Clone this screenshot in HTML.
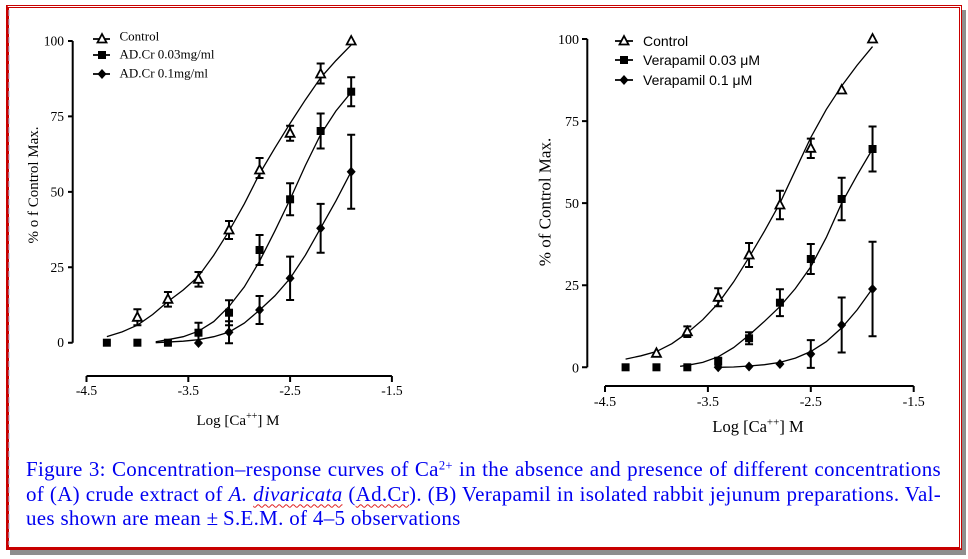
<!DOCTYPE html>
<html><head><meta charset="utf-8">
<style>
html,body{margin:0;padding:0;background:#fff;}
body{width:968px;height:559px;position:relative;overflow:hidden;}
.frame{position:absolute;left:6px;top:5px;width:950px;height:539px;border-left:3px solid #c80000;border-bottom:3px solid #c80000;border-top:3px double #c80000;border-right:3px double #c80000;box-shadow:4px 5px 0 #8e8e8e;background:#fff;}
.cap{position:absolute;left:26px;top:457px;width:915px;font-family:"Liberation Serif",serif;font-size:21px;line-height:24.7px;color:#0000f0;letter-spacing:0.3px;}
.cap div{white-space:nowrap;}
.j{text-align:justify;text-align-last:justify;white-space:normal !important;}
.cap sup{font-size:0.6em;vertical-align:0.5em;line-height:0;}
.sp{text-decoration:underline wavy #e02020;text-decoration-thickness:1px;text-underline-offset:3px;}
svg{position:absolute;left:0;top:0;}
</style></head>
<body>
<div class="frame"></div>
<svg width="968" height="559" viewBox="0 0 968 559" xmlns="http://www.w3.org/2000/svg">
<defs>
<polygon id="tri" points="0,-5 -4.5,3.5 4.5,3.5" fill="#fff" stroke="#000" stroke-width="1.8"/>
<rect id="sq" x="-4" y="-4" width="8" height="8" fill="#000"/>
<polygon id="dia" points="0,-5 4.5,0 0,5 -4.5,0" fill="#000"/>
</defs>
<line x1="9" y1="10" x2="9" y2="545" stroke="#a8c0e0" stroke-width="1" stroke-dasharray="6,3"/>

<!-- LEFT CHART -->
<g stroke="#000" fill="none">
<path d="M72.7,41V342.7M68,41H72.7M68,116.4H72.7M68,191.85H72.7M68,267.3H72.7M68,342.7H72.7" stroke-width="2"/>
<path d="M86.5,376H391.9M86.5,376V382M188.3,376V382M290.1,376V382M391.9,376V382" stroke-width="2"/>
</g>
<g font-family="Liberation Serif, serif" font-size="13.5" fill="#000">
<text x="64" y="45.5" text-anchor="end">100</text>
<text x="64" y="121" text-anchor="end">75</text>
<text x="64" y="196.4" text-anchor="end">50</text>
<text x="64" y="271.8" text-anchor="end">25</text>
<text x="64" y="347.2" text-anchor="end">0</text>
<text x="86.5" y="395" text-anchor="middle">-4.5</text>
<text x="188.3" y="395" text-anchor="middle">-3.5</text>
<text x="290.1" y="395" text-anchor="middle">-2.5</text>
<text x="391.9" y="395" text-anchor="middle">-1.5</text>
</g>
<text x="238" y="425" text-anchor="middle" font-family="Liberation Serif, serif" font-size="15">Log [Ca<tspan font-size="10" dy="-6">++</tspan><tspan dy="6">] M</tspan></text>
<text transform="translate(38,185) rotate(-90)" text-anchor="middle" font-family="Liberation Serif, serif" font-size="15">% o f Control Max.</text>

<g stroke="#000" fill="none" stroke-width="1.3">
<path d="M106.86,336.67 L122.13,331.84 L137.4,325.2 L152.67,314.5 L167.94,301.5 L183.21,290 L198.48,276.33 L213.75,255.21 L229.02,231.07 L244.29,203.92 L259.56,173.75 L274.83,148.1 L290.1,123.36 L305.37,99.83 L320.64,77.8 L335.91,60.61 L351.18,44.92"/>
<path d="M155.7,341.8 L167.94,339.7 L183.21,336.7 L198.48,331.2 L213.75,321.6 L229.02,306.5 L244.29,286.9 L259.56,261.2 L274.83,231.1 L290.1,199.4 L305.37,165.5 L320.64,134.5 L335.91,111 L351.18,92.3"/>
<path d="M155.7,342.7 L183.21,341.2 L198.48,339.7 L213.75,336.7 L229.02,332.1 L244.29,323.1 L259.56,310.1 L274.83,295.9 L290.1,278.4 L305.37,255.2 L320.64,228.1 L335.91,200.9 L351.18,171.6"/>
</g>
<path stroke="#000" fill="none" stroke-width="2" d="
M137.4,309.3V325.3M133.4,309.3H141.4M133.4,325.3H141.4
M167.94,292V306.6M163.94,292H171.94M163.94,306.6H171.94
M198.48,272V286.6M194.48,272H202.48M194.48,286.6H202.48
M229.02,221V239M225.02,221H233.02M225.02,239H233.02
M259.56,158V178M255.56,158H263.56M255.56,178H263.56
M290.1,125.8V140.8M286.1,125.8H294.1M286.1,140.8H294.1
M320.64,63.5V83.5M316.64,63.5H324.64M316.64,83.5H324.64
M198.48,322.7V342.7M194.48,322.7H202.48
M229.02,300.2V325.2M225.02,300.2H233.02M225.02,325.2H233.02
M259.56,235V265M255.56,235H263.56M255.56,265H263.56
M290.1,183.3V215.3M286.1,183.3H294.1M286.1,215.3H294.1
M320.64,113.5V148.5M316.64,113.5H324.64M316.64,148.5H324.64
M351.18,77.2V106.2M347.18,77.2H355.18M347.18,106.2H355.18
M229.02,321.3V343.3M225.02,321.3H233.02M225.02,343.3H233.02
M259.56,296V324M255.56,296H263.56M255.56,324H263.56
M290.1,256.6V300M286.1,256.6H294.1M286.1,300H294.1
M320.64,203.9V252.7M316.64,203.9H324.64M316.64,252.7H324.64
M351.18,134.7V208.7M347.18,134.7H355.18M347.18,208.7H355.18"/>
<use href="#tri" x="137.4" y="317.3"/>
<use href="#tri" x="167.94" y="299.3"/>
<use href="#tri" x="198.48" y="279.3"/>
<use href="#tri" x="229.02" y="230"/>
<use href="#tri" x="259.56" y="170"/>
<use href="#tri" x="290.1" y="133.3"/>
<use href="#tri" x="320.64" y="74"/>
<use href="#tri" x="351.18" y="41"/>
<use href="#sq" x="106.86" y="342.7"/>
<use href="#sq" x="137.4" y="342.7"/>
<use href="#sq" x="167.94" y="342.7"/>
<use href="#sq" x="198.48" y="332.7"/>
<use href="#sq" x="229.02" y="312.7"/>
<use href="#sq" x="259.56" y="250"/>
<use href="#sq" x="290.1" y="199.3"/>
<use href="#sq" x="320.64" y="131"/>
<use href="#sq" x="351.18" y="91.7"/>
<use href="#dia" x="198.48" y="343"/>
<use href="#dia" x="229.02" y="332.3"/>
<use href="#dia" x="259.56" y="310"/>
<use href="#dia" x="290.1" y="278.3"/>
<use href="#dia" x="320.64" y="228.3"/>
<use href="#dia" x="351.18" y="171.7"/>
<!-- left legend -->
<path stroke="#000" stroke-width="1.8" d="M93,39H110M93,55H110M93,74H110"/>
<use href="#tri" x="102" y="39"/>
<use href="#sq" x="102" y="55"/>
<use href="#dia" x="102" y="74"/>
<g font-family="Liberation Serif, serif" font-size="13" fill="#000">
<text x="119.5" y="40.5">Control</text>
<text x="119.5" y="58.5">AD.Cr 0.03mg/ml</text>
<text x="119.5" y="77.5">AD.Cr 0.1mg/ml</text>
</g>

<!-- RIGHT CHART -->
<g stroke="#000" fill="none">
<path d="M587.3,39V367.3M582,39H587.3M582,121.1H587.3M582,203.15H587.3M582,285.2H587.3M582,367.3H587.3" stroke-width="2"/>
<path d="M605,386H913.7M605,386V392M707.9,386V392M810.8,386V392M913.7,386V392" stroke-width="2"/>
</g>
<g font-family="Liberation Serif, serif" font-size="14" fill="#000">
<text x="579" y="44" text-anchor="end">100</text>
<text x="579" y="126.1" text-anchor="end">75</text>
<text x="579" y="208.1" text-anchor="end">50</text>
<text x="579" y="290.2" text-anchor="end">25</text>
<text x="579" y="372.3" text-anchor="end">0</text>
<text x="605" y="406" text-anchor="middle">-4.5</text>
<text x="707.9" y="406" text-anchor="middle">-3.5</text>
<text x="810.8" y="406" text-anchor="middle">-2.5</text>
<text x="913.7" y="406" text-anchor="middle">-1.5</text>
</g>
<text x="758" y="432" text-anchor="middle" font-family="Liberation Serif, serif" font-size="16.5">Log [Ca<tspan font-size="11" dy="-6.5">++</tspan><tspan dy="6.5">] M</tspan></text>
<text transform="translate(550.5,202) rotate(-90)" text-anchor="middle" font-family="Liberation Serif, serif" font-size="17">% of Control Max.</text>

<g stroke="#000" fill="none" stroke-width="1.3">
<path d="M625.58,359.09 L641.02,355.81 L656.45,351.54 L671.89,343.66 L687.32,332.83 L702.76,319.7 L718.19,303.28 L733.63,281.94 L749.06,257.32 L764.5,231.06 L779.93,203.15 L795.37,170.32 L810.8,137.49 L826.24,109.58 L841.67,85.95 L857.11,65.26 L872.54,46.55"/>
<path d="M680.1,366.3 L687.32,365.3 L702.76,362.4 L718.19,356.8 L733.63,347.6 L749.06,335.1 L764.5,321.3 L779.93,306.6 L795.37,288.5 L810.8,266.8 L826.24,237.6 L841.67,203.2 L857.11,175.2 L872.54,149.0"/>
<path d="M718.19,367.3 L733.63,367.0 L749.06,366.0 L764.5,364.7 L779.93,362.4 L795.37,358.1 L810.8,351.5 L826.24,341.7 L841.67,327.9 L857.11,309.9 L872.54,288.5"/>
</g>
<path stroke="#000" fill="none" stroke-width="2" d="
M687.32,326.4V337M683.32,326.4H691.32M683.32,337H691.32
M718.19,288.3V306.3M714.19,288.3H722.19M714.19,306.3H722.19
M749.06,243V267M745.06,243H753.06M745.06,267H753.06
M779.93,190.8V219.2M775.93,190.8H783.93M775.93,219.2H783.93
M810.8,138.6V158M806.8,138.6H814.8M806.8,158H814.8
M718.19,357.7V365.7M714.19,357.7H722.19
M749.06,332.3V344.3M745.06,332.3H753.06M745.06,344.3H753.06
M779.93,289.3V316.1M775.93,289.3H783.93M775.93,316.1H783.93
M810.8,244V274M806.8,244H814.8M806.8,274H814.8
M841.67,177.8V220.2M837.67,177.8H845.67M837.67,220.2H845.67
M872.54,126.5V171.5M868.54,126.5H876.54M868.54,171.5H876.54
M810.8,340.1V367.9M806.8,340.1H814.8M806.8,367.9H814.8
M841.67,297.5V352.5M837.67,297.5H845.67M837.67,352.5H845.67
M872.54,241.8V336.2M868.54,241.8H876.54M868.54,336.2H876.54"/>
<use href="#tri" x="656.45" y="353.3"/>
<use href="#tri" x="687.32" y="331.7"/>
<use href="#tri" x="718.19" y="297.3"/>
<use href="#tri" x="749.06" y="255"/>
<use href="#tri" x="779.93" y="205"/>
<use href="#tri" x="810.8" y="148.3"/>
<use href="#tri" x="841.67" y="90"/>
<use href="#tri" x="872.54" y="39"/>
<use href="#sq" x="625.58" y="367.3"/>
<use href="#sq" x="656.45" y="367.3"/>
<use href="#sq" x="687.32" y="367.3"/>
<use href="#sq" x="718.19" y="361.7"/>
<use href="#sq" x="749.06" y="338.3"/>
<use href="#sq" x="779.93" y="302.7"/>
<use href="#sq" x="810.8" y="259"/>
<use href="#sq" x="841.67" y="199"/>
<use href="#sq" x="872.54" y="149"/>
<use href="#dia" x="718.19" y="367.3"/>
<use href="#dia" x="749.06" y="366.5"/>
<use href="#dia" x="779.93" y="364"/>
<use href="#dia" x="810.8" y="354"/>
<use href="#dia" x="841.67" y="325"/>
<use href="#dia" x="872.54" y="289"/>
<!-- right legend -->
<path stroke="#000" stroke-width="1.8" d="M615,41H633M615,60H633M615,80H633"/>
<use href="#tri" x="624" y="41"/>
<use href="#sq" x="624" y="60"/>
<use href="#dia" x="624" y="80"/>
<g font-family="Liberation Sans, sans-serif" font-size="14" fill="#000">
<text x="643" y="46">Control</text>
<text x="643" y="65">Verapamil 0.03 μM</text>
<text x="643" y="85">Verapamil 0.1 μM</text>
</g>
</svg>

<div class="cap">
<div class="j">Figure 3: Concentration–response curves of Ca<sup>2+</sup> in the absence and presence of different concentrations</div>
<div class="j">of (A) crude extract of <i>A. <span class="sp">divaricata</span></i> (<span class="sp">Ad.Cr</span>). (B) Verapamil in isolated rabbit jejunum preparations. Val-</div>
<div>ues shown are mean ±&thinsp;S.E.M. of 4–5 observations</div>
</div>
</body></html>
